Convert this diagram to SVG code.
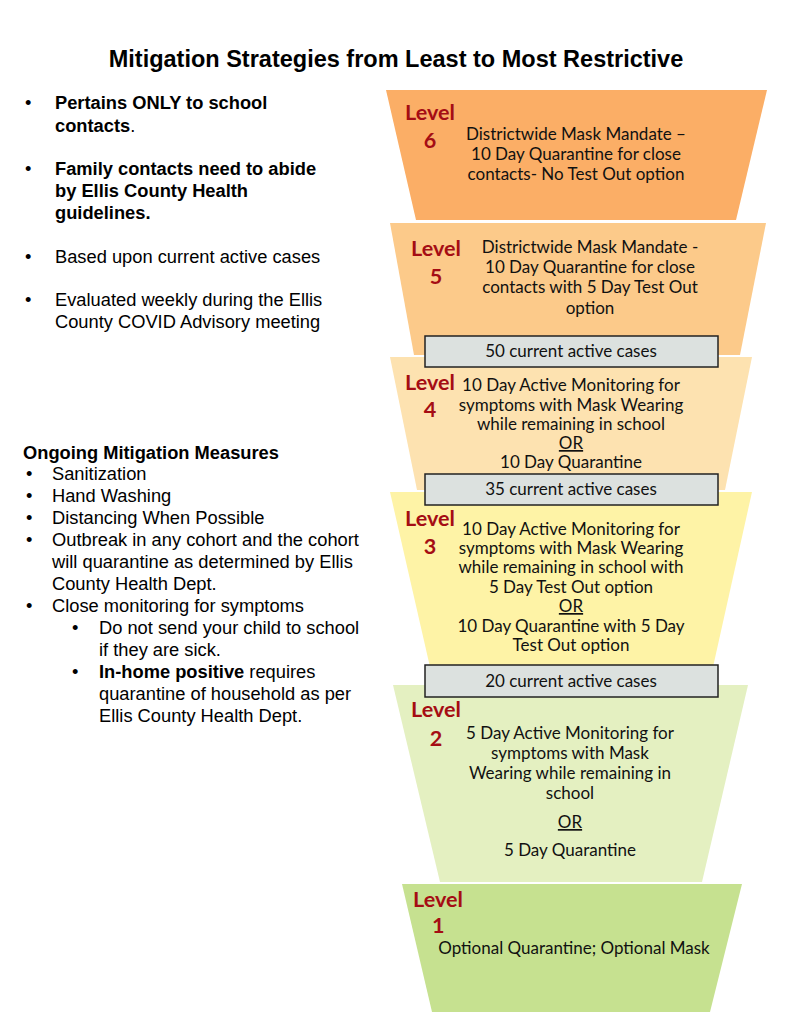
<svg xmlns="http://www.w3.org/2000/svg" width="800" height="1035" viewBox="0 0 800 1035">
<style>
.title{font-family:"Liberation Sans",Arial,sans-serif;font-weight:bold;font-size:23.5px;fill:#000}
.lt{font-family:"Liberation Sans",Arial,sans-serif;font-size:18.3px;fill:#000}
.b{font-weight:bold}
.lv{font-family:Lato,"Open Sans",sans-serif;font-weight:bold;font-size:21.6px;fill:#A50D14}
.tx{font-family:Lato,"Open Sans",sans-serif;font-size:17px;fill:#111;text-anchor:middle}
.box{fill:#DCE1DF;stroke:#222;stroke-width:1.5}
.u{text-decoration:underline}
</style>
<rect width="800" height="1035" fill="#fff"/>
<text class="title" x="396" y="67" text-anchor="middle">Mitigation Strategies from Least to Most Restrictive</text>

<g id="intro" class="lt">
<text x="25" y="109">•</text><text x="55" y="109" class="b">Pertains ONLY to school</text>
<text x="55" y="132"><tspan class="b">contacts</tspan>.</text>
<text x="25" y="175">•</text><text x="55" y="175" class="b">Family contacts need to abide</text>
<text x="55" y="197" class="b">by Ellis County Health</text>
<text x="55" y="219" class="b">guidelines.</text>
<text x="25" y="263">•</text><text x="55" y="263">Based upon current active cases</text>
<text x="25" y="306">•</text><text x="55" y="306">Evaluated weekly during the Ellis</text>
<text x="55" y="328">County COVID Advisory meeting</text>
</g>

<g id="ongoing" class="lt">
<text x="23" y="459" class="b">Ongoing Mitigation Measures</text>
<text x="26" y="480">•</text><text x="52" y="480">Sanitization</text>
<text x="26" y="502">•</text><text x="52" y="502">Hand Washing</text>
<text x="26" y="524">•</text><text x="52" y="524">Distancing When Possible</text>
<text x="26" y="546">•</text><text x="52" y="546">Outbreak in any cohort and the cohort</text>
<text x="52" y="568">will quarantine as determined by Ellis</text>
<text x="52" y="590">County Health Dept.</text>
<text x="26" y="612">•</text><text x="52" y="612">Close monitoring for symptoms</text>
<text x="72" y="634">•</text><text x="99" y="634">Do not send your child to school</text>
<text x="99" y="656">if they are sick.</text>
<text x="72" y="678">•</text><text x="99" y="678"><tspan class="b">In-home positive</tspan> requires</text>
<text x="99" y="700">quarantine of household as per</text>
<text x="99" y="722">Ellis County Health Dept.</text>
</g>

<g id="level6">
<polygon points="386,90 767,90 736,220 416,220" fill="#FBAE66"/>
<text class="lv" x="405" y="120">Level</text>
<text class="lv" x="430" y="148" text-anchor="middle">6</text>
<text class="tx" x="576" y="140">Districtwide Mask Mandate –</text>
<text class="tx" x="576" y="160">10 Day Quarantine for close</text>
<text class="tx" x="576" y="180">contacts- No Test Out option</text>
</g>

<g id="level5">
<polygon points="390,223 766,223 740,355 414,355" fill="#FCCA8A"/>
<text class="lv" x="411" y="256">Level</text>
<text class="lv" x="436" y="284" text-anchor="middle">5</text>
<text class="tx" x="590" y="253">Districtwide Mask Mandate -</text>
<text class="tx" x="590" y="273">10 Day Quarantine for close</text>
<text class="tx" x="590" y="293">contacts with 5 Day Test Out</text>
<text class="tx" x="590" y="314">option</text>
</g>

<g id="level4">
<polygon points="390,357 752,357 725,490 417,490" fill="#FDE2B0"/>
<text class="lv" x="405" y="390">Level</text>
<text class="lv" x="430" y="417" text-anchor="middle">4</text>
<text class="tx" x="571" y="391">10 Day Active Monitoring for</text>
<text class="tx" x="571" y="411">symptoms with Mask Wearing</text>
<text class="tx" x="571" y="430">while remaining in school</text>
<text class="tx u" x="571" y="449">OR</text>
<text class="tx" x="571" y="468">10 Day Quarantine</text>
</g>

<g id="level3">
<polygon points="390,492 752,492 713,667 430,667" fill="#FEF3A6"/>
<text class="lv" x="405" y="526">Level</text>
<text class="lv" x="430" y="554" text-anchor="middle">3</text>
<text class="tx" x="571" y="535">10 Day Active Monitoring for</text>
<text class="tx" x="571" y="554">symptoms with Mask Wearing</text>
<text class="tx" x="571" y="573">while remaining in school with</text>
<text class="tx" x="571" y="593">5 Day Test Out option</text>
<text class="tx u" x="571" y="612">OR</text>
<text class="tx" x="571" y="632">10 Day Quarantine with 5 Day</text>
<text class="tx" x="571" y="651">Test Out option</text>
</g>

<g id="level2">
<polygon points="393,685 748,685 702,882 440,882" fill="#E4F0C1"/>
<text class="lv" x="411" y="717">Level</text>
<text class="lv" x="436" y="746" text-anchor="middle">2</text>
<text class="tx" x="570" y="739">5 Day Active Monitoring for</text>
<text class="tx" x="570" y="759">symptoms with Mask</text>
<text class="tx" x="570" y="779">Wearing while remaining in</text>
<text class="tx" x="570" y="799">school</text>
<text class="tx u" x="570" y="828">OR</text>
<text class="tx" x="570" y="856">5 Day Quarantine</text>
</g>

<g id="level1">
<polygon points="402,884 742,884 710,1012 432,1012" fill="#C6E190"/>
<text class="lv" x="413" y="907">Level</text>
<text class="lv" x="432" y="933">1</text>
<text class="tx" x="574" y="954">Optional Quarantine; Optional Mask</text>
</g>

<g id="thresholds">
<rect class="box" x="425" y="336" width="293" height="31"/>
<text class="tx" x="571" y="357">50 current active cases</text>
<rect class="box" x="425" y="474" width="293" height="31"/>
<text class="tx" x="571" y="495">35 current active cases</text>
<rect class="box" x="425" y="665" width="293" height="32"/>
<text class="tx" x="571" y="687">20 current active cases</text>
</g>
</svg>
